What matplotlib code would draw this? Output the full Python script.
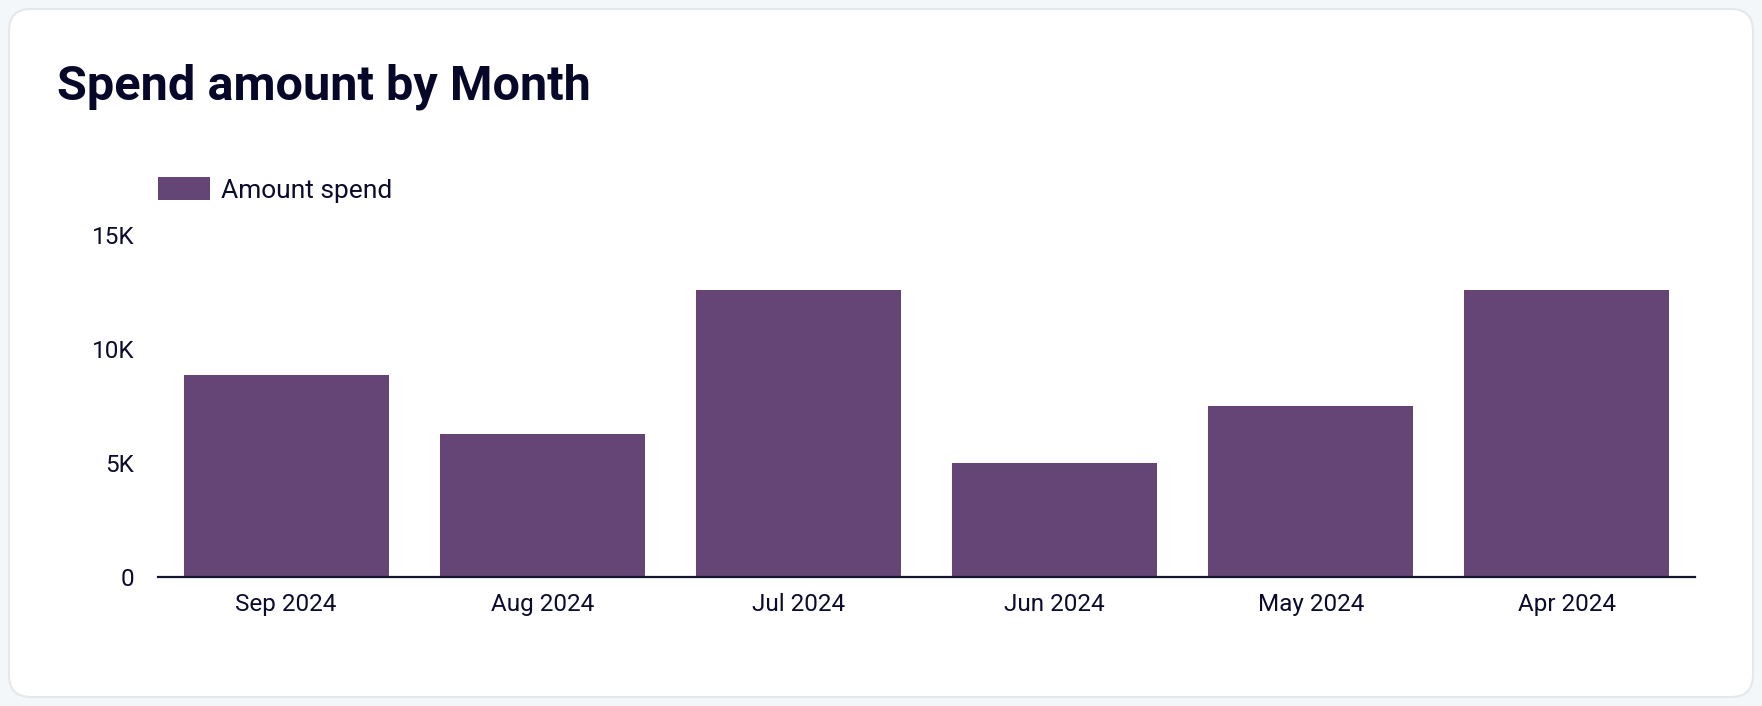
import numpy as np
import matplotlib.pyplot as plt
from matplotlib.patches import FancyBboxPatch

# Chart data
months = ['Sep 2024', 'Aug 2024', 'Jul 2024', 'Jun 2024', 'May 2024', 'Apr 2024']
amount_spend = [8860, 6270, 12600, 5030, 7520, 12600]
y_ticks = [0, 5000, 10000, 15000]
y_tick_labels = ['0', '5K', '10K', '15K']

bar_color = '#654575'
text_color = '#0b0b2e'
W, H = 1762, 706

plt.rcParams['font.family'] = ['Roboto', 'DejaVu Sans']

fig = plt.figure(figsize=(W / 100, H / 100), dpi=100)
fig.patch.set_facecolor('#f4f7f9')

# card background in pixel coords
bg = fig.add_axes([0, 0, 1, 1])
bg.set_xlim(0, W)
bg.set_ylim(H, 0)
bg.axis('off')
card = FancyBboxPatch((9, 9), W - 18, H - 18, boxstyle='round,pad=0,rounding_size=22',
                      facecolor='white', edgecolor='#e4e8eb', linewidth=1.5)
bg.add_patch(card)

ax = fig.add_axes([158 / W, 1 - 577.3 / H, (1695 - 158) / W, (577.3 - 235) / H])
ax.set_facecolor('none')
x = np.arange(len(months))
ax.bar(x, amount_spend, width=0.8, color=bar_color, label='Amount spend')
ax.set_xlim(-0.5, len(months) - 0.5)
ax.set_ylim(0, 15000)
ax.set_xticks(x)
ax.set_xticklabels(months)
ax.set_yticks(y_ticks)
ax.set_yticklabels(y_tick_labels)
ax.tick_params(axis='both', length=0, labelsize=17.5, labelcolor=text_color)
ax.tick_params(axis='x', pad=11)
ax.tick_params(axis='y', pad=17)
for s in ['top', 'right', 'left']:
    ax.spines[s].set_visible(False)
ax.spines['bottom'].set_color('#15152f')
ax.spines['bottom'].set_linewidth(1.6)

leg = ax.legend(loc='center left', bbox_to_anchor=(158 / W, 1 - 190 / H),
                bbox_transform=fig.transFigure, frameon=False, fontsize=19,
                handlelength=1.97, handleheight=0.985, handletextpad=0.42,
                borderpad=0, borderaxespad=0, labelcolor=text_color)

fig.text(57 / W, 1 - 100 / H, 'Spend amount by Month', fontsize=35,
         fontweight='bold', color='#07072a', va='baseline', ha='left')

fig.savefig('out.png', dpi=100, facecolor=fig.get_facecolor())
